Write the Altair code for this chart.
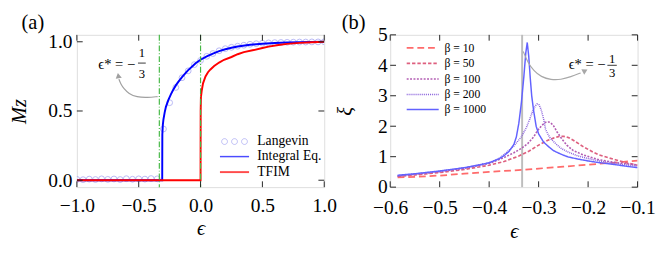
import altair as alt
import pandas as pd

SERIF = "'Liberation Serif', 'DejaVu Serif', serif"
W, H = 255, 157

# ---------------- panel (a) data ----------------
lang_eps = [-1.0, -0.95, -0.9, -0.85, -0.8, -0.75, -0.7, -0.65, -0.6, -0.55, -0.5,
            -0.45, -0.4, -0.35, -0.3, -0.25, -0.2, -0.15, -0.1, -0.05, 0.0,
            0.05, 0.1, 0.15, 0.2, 0.25, 0.3, 0.35, 0.4, 0.45, 0.5,
            0.55, 0.6, 0.65, 0.7, 0.75, 0.8, 0.85, 0.9, 0.95, 1.0]
lang_mz = [0.006, 0.004, 0.008, 0.005, 0.01, 0.006, 0.009, 0.005, 0.011, 0.007, 0.01,
           0.008, 0.012, 0.01, 0.37, 0.56, 0.67, 0.74, 0.79, 0.835, 0.865,
           0.895, 0.915, 0.935, 0.95, 0.96, 0.968, 0.975, 0.982, 0.986, 0.99,
           0.992, 0.994, 0.995, 0.996, 0.997, 0.998, 0.998, 0.999, 0.999, 1.0]

inteq_eps = [-1.0, -0.31, -0.3095, -0.309, -0.305, -0.3, -0.29, -0.28, -0.26, -0.24, -0.22,
             -0.2, -0.18, -0.15, -0.12, -0.1, -0.07, -0.04, 0.0, 0.05, 0.1, 0.15, 0.2,
             0.25, 0.3, 0.4, 0.5, 0.6, 0.7, 0.8, 0.9, 1.0]
inteq_mz = [0.0, 0.0, 0.2, 0.33, 0.40, 0.44, 0.49, 0.53, 0.58, 0.62, 0.655,
            0.685, 0.71, 0.745, 0.775, 0.795, 0.82, 0.845, 0.87, 0.895, 0.915, 0.932, 0.946,
            0.957, 0.966, 0.978, 0.986, 0.991, 0.995, 0.997, 0.999, 1.0]

tfim_eps = [-1.0, 0.0, 0.0005, 0.001, 0.003, 0.01, 0.02, 0.04, 0.06, 0.08, 0.11, 0.15,
            0.19, 0.25, 0.3, 0.35, 0.43, 0.5, 0.55, 0.63, 0.7, 0.8, 0.9, 1.0]
tfim_mz = [0.0, 0.0, 0.3, 0.5, 0.6, 0.65, 0.70, 0.75, 0.78, 0.80, 0.825, 0.85,
           0.87, 0.89, 0.91, 0.925, 0.94, 0.955, 0.965, 0.977, 0.985, 0.992, 0.997, 1.0]

crit_a = [-1 / 3, 0.0]
arrow_a_eps = [-0.347, -0.43, -0.516, -0.58, -0.621, -0.645, -0.66]
arrow_a_mz = [0.604, 0.597, 0.600, 0.625, 0.662, 0.695, 0.73]
head_a = {"eps": [-0.665], "val": [0.755]}

series_a = ["Langevin", "Integral Eq.", "TFIM"]
xticks_a = [-1.0, -0.5, 0.0, 0.5, 1.0]
yticks_a = [0.0, 0.5, 1.0]

# ---------------- panel (b) data ----------------
b10_eps = [-0.585, -0.55, -0.5, -0.45, -0.4, -0.35, -0.33, -0.3, -0.25, -0.2, -0.15, -0.1]
b10_xi = [0.32, 0.34, 0.38, 0.44, 0.50, 0.55, 0.57, 0.61, 0.67, 0.74, 0.80, 0.87]

b50_eps = [-0.585, -0.55, -0.5, -0.45, -0.4, -0.37, -0.34, -0.32, -0.3, -0.28, -0.27,
           -0.26, -0.25, -0.24, -0.23, -0.21, -0.19, -0.178, -0.16, -0.145, -0.12, -0.1]
b50_xi = [0.35, 0.40, 0.48, 0.58, 0.72, 0.84, 1.02, 1.18, 1.38, 1.55, 1.61,
          1.66, 1.67, 1.63, 1.54, 1.33, 1.15, 1.06, 0.97, 0.90, 0.79, 0.72]

b100_eps = [-0.585, -0.55, -0.5, -0.45, -0.4, -0.37, -0.35, -0.335, -0.322, -0.31, -0.302,
            -0.294, -0.286, -0.28, -0.276, -0.27, -0.263, -0.253, -0.243, -0.23, -0.21,
            -0.19, -0.178, -0.15, -0.12, -0.1]
b100_xi = [0.36, 0.42, 0.51, 0.62, 0.78, 0.97, 1.13, 1.27, 1.43, 1.65, 1.86,
           2.02, 2.13, 2.14, 2.12, 2.02, 1.82, 1.58, 1.38, 1.2, 1.06,
           0.96, 0.9, 0.82, 0.76, 0.73]

b200_eps = [-0.585, -0.55, -0.5, -0.45, -0.4, -0.38, -0.367, -0.35, -0.335, -0.325, -0.318,
            -0.312, -0.307, -0.303, -0.299, -0.295, -0.29, -0.286, -0.28, -0.276, -0.265,
            -0.255, -0.243, -0.22, -0.2, -0.178, -0.15, -0.12, -0.1]
b200_xi = [0.37, 0.43, 0.52, 0.63, 0.80, 0.94, 1.11, 1.35, 1.65, 1.95, 2.23,
           2.5, 2.66, 2.73, 2.7, 2.55, 2.25, 1.9, 1.7, 1.6, 1.42,
           1.28, 1.17, 1.02, 0.94, 0.86, 0.79, 0.72, 0.69]

b1000_eps = [-0.585, -0.55, -0.5, -0.45, -0.42, -0.4, -0.38, -0.37, -0.36, -0.35, -0.345,
             -0.34, -0.335, -0.33, -0.326, -0.323, -0.32, -0.317, -0.314, -0.31, -0.305,
             -0.3, -0.29, -0.28, -0.27, -0.26, -0.25, -0.24, -0.22, -0.2, -0.18, -0.15,
             -0.12, -0.1]
b1000_xi = [0.39, 0.44, 0.53, 0.64, 0.73, 0.80, 0.93, 1.03, 1.17, 1.40, 1.65,
            2.10, 2.75, 3.60, 4.40, 4.75, 4.30, 3.60, 3.00, 2.50, 2.00,
            1.75, 1.48, 1.33, 1.20, 1.12, 1.05, 0.99, 0.92, 0.86, 0.81, 0.75,
            0.68, 0.64]

beta_labels = ["β = 10", "β = 50", "β = 100", "β = 200", "β = 1000"]
beta_colors = ["#ff6b6b", "#de607f", "#b25cb2", "#8a62dc", "#6262ff"]
beta_dash = [[7, 4], [3.5, 2], [2, 1.5], [1, 1], [1, 0]]
beta_width = [1.8, 1.5, 1.3, 1.5, 2.0]

crit_b = [-1 / 3]
arrow_b_eps = [-0.331, -0.322, -0.31, -0.295, -0.275, -0.255, -0.235, -0.215]
arrow_b_xi = [4.45, 4.10, 3.82, 3.62, 3.52, 3.53, 3.62, 3.75]
head_b = {"eps": [-0.206], "val": [3.82]}

xticks_b = [-0.6, -0.5, -0.4, -0.3, -0.2, -0.1]
yticks_b = [0, 1, 2, 3, 4, 5]

panel_labels = ["(a)", "(b)"]

# ---------------- helpers ----------------
sx_a = alt.Scale(domain=[-1, 1], nice=False, zero=False)
sy_a = alt.Scale(domain=[-0.05, 1.05], nice=False, zero=False)
sx_b = alt.Scale(domain=[-0.6, -0.1], nice=False, zero=False)
sy_b = alt.Scale(domain=[0, 5], nice=False, zero=False)

def mk_axis(values, fmt, title, tpad, lpad):
    return alt.Axis(values=values, format=fmt, title=title, ticks=False, tickSize=0, domain=False,
                    grid=False, labelFont=SERIF, labelFontSize=20, labelColor="black",
                    labelPadding=lpad, labelFlush=False, labelOverlap=False, labelBound=False,
                    titleFont=SERIF, titleFontSize=21, titleFontWeight="normal",
                    titleColor="black", titlePadding=tpad, titleFontStyle="italic")

ax_xa = mk_axis(xticks_a, ".1f", "ϵ", 3, 9)
ax_ya = mk_axis(yticks_a, ".1f", "Mz", 19, 5)
ax_xb = mk_axis(xticks_b, ".1f", "ϵ", 4, 11)
ax_yb = mk_axis(yticks_b, "d", "ξ", 23, 3)

def XA(f="eps"):
    return alt.X(f"{f}:Q", scale=sx_a, axis=ax_xa)
def YA(f="val"):
    return alt.Y(f"{f}:Q", scale=sy_a, axis=ax_ya)
def XB(f="eps"):
    return alt.X(f"{f}:Q", scale=sx_b, axis=ax_xb)
def YB(f="val"):
    return alt.Y(f"{f}:Q", scale=sy_b, axis=ax_yb)

TICK = 6
TCOL = "#222222"

def panel_label(txt, dx):
    return alt.Chart(pd.DataFrame({"t": [txt]})).mark_text(
        align="left", baseline="top", font=SERIF, fontSize=21, color="black"
    ).encode(text="t:N", x=alt.value(dx), y=alt.value(-23))

# ---------------- panel (a) ----------------
lang_df = pd.DataFrame({"eps": lang_eps, "val": lang_mz})
inteq_df = pd.DataFrame({"eps": inteq_eps, "val": inteq_mz})
tfim_df = pd.DataFrame({"eps": tfim_eps, "val": tfim_mz})

pts = alt.Chart(lang_df).mark_point(shape="circle", size=36, filled=False, color="#9c9cf2",
                                    strokeWidth=1, clip=True).encode(x=XA(), y=YA())
blue = alt.Chart(inteq_df).mark_line(color="#0000ff", strokeWidth=2, clip=True).encode(x=XA(), y=YA())
red = alt.Chart(tfim_df).mark_line(color="#ff0000", strokeWidth=2, clip=True).encode(x=XA(), y=YA())
green = alt.Chart(pd.DataFrame({"eps": crit_a})).mark_rule(
    color="#45b845", strokeWidth=1.2, strokeDash=[6, 2, 1, 2]).encode(x=XA())

arr_a = alt.Chart(pd.DataFrame({"eps": arrow_a_eps, "val": arrow_a_mz, "o": list(range(len(arrow_a_eps)))})
                  ).mark_line(color="#a0a0a0", strokeWidth=1.2, interpolate="basis").encode(
    x=XA(), y=YA(), order="o:Q")
arrh_a = alt.Chart(pd.DataFrame(head_a)).mark_point(
    shape="triangle-up", size=40, filled=True, color="#a0a0a0", opacity=1, angle=350).encode(x=XA(), y=YA())

ann_a_main = alt.Chart(pd.DataFrame({"eps": [-0.529], "val": [0.839], "t": ["ϵ* = −"]})).mark_text(
    align="right", baseline="middle", font=SERIF, fontSize=15, color="black").encode(x=XA(), y=YA(), text="t:N")
ann_a_frac = alt.Chart(pd.DataFrame({"eps": [-0.4745, -0.4745], "val": [0.916, 0.769], "t": ["1", "3"]})).mark_text(
    align="center", baseline="middle", font=SERIF, fontSize=13, color="black").encode(x=XA(), y=YA(), text="t:N")
ann_a_bar = alt.Chart(pd.DataFrame({"eps": [-0.506], "eps2": [-0.443], "val": [0.846]})).mark_rule(
    color="black", strokeWidth=0.8).encode(x=XA(), x2="eps2:Q", y=YA())

tk_xa = pd.DataFrame({"eps": xticks_a})
tk_ya = pd.DataFrame({"val": yticks_a})
ticks_a = [
    alt.Chart(tk_xa).mark_rule(color=TCOL, strokeWidth=1).encode(x=XA(), y=alt.value(0), y2=alt.value(TICK)),
    alt.Chart(tk_xa).mark_rule(color=TCOL, strokeWidth=1).encode(x=XA(), y=alt.value(H), y2=alt.value(H - TICK)),
    alt.Chart(tk_ya).mark_rule(color=TCOL, strokeWidth=1).encode(y=YA(), x=alt.value(0), x2=alt.value(TICK)),
    alt.Chart(tk_ya).mark_rule(color=TCOL, strokeWidth=1).encode(y=YA(), x=alt.value(W), x2=alt.value(W - TICK)),
]

# legend symbols: wide custom paths on a small symbol size (keeps rows compact)
three_circles = ("M-1.77,0 A0.4,0.4 0 1,0 -0.97,0 A0.4,0.4 0 1,0 -1.77,0 Z "
                 "M-0.4,0 A0.4,0.4 0 1,0 0.4,0 A0.4,0.4 0 1,0 -0.4,0 Z "
                 "M0.97,0 A0.4,0.4 0 1,0 1.77,0 A0.4,0.4 0 1,0 0.97,0 Z")
wide_stroke = "M-2,0 H2"
leg_a_obj = alt.Legend(title=None, orient="none", legendX=154, legendY=102, padding=0,
                       symbolSize=225, labelFont=SERIF, labelFontSize=14, labelColor="black",
                       labelOffset=15, rowPadding=0, symbolFillColor="transparent")
leg_a_df = pd.DataFrame({"eps": [5.0, 5.0, 5.0], "val": [0.5, 0.5, 0.5], "series": series_a})
leg_a = alt.Chart(leg_a_df).mark_point(filled=False, clip=True, size=225).encode(
    x=XA(), y=YA(),
    color=alt.Color("series:N", scale=alt.Scale(domain=series_a, range=["#9c9cf2", "#0000ff", "#ff0000"]),
                    legend=leg_a_obj),
    shape=alt.Shape("series:N", scale=alt.Scale(domain=series_a, range=[three_circles, wide_stroke, wide_stroke]),
                    legend=leg_a_obj),
    strokeWidth=alt.StrokeWidth("series:N", scale=alt.Scale(domain=series_a, range=[1, 2, 2]),
                                legend=leg_a_obj),
)

panel_a = alt.layer(
    pts, blue, red, green, arr_a, arrh_a, ann_a_main, ann_a_frac, ann_a_bar, *ticks_a, leg_a,
    panel_label(panel_labels[0], -57)
).properties(width=W, height=H)

# ---------------- panel (b) ----------------
rows = []
for lab, ee, xx in zip(beta_labels, [b10_eps, b50_eps, b100_eps, b200_eps, b1000_eps],
                       [b10_xi, b50_xi, b100_xi, b200_xi, b1000_xi]):
    for i, (e, x) in enumerate(zip(ee, xx)):
        rows.append({"eps": e, "val": x, "beta": lab, "o": i})
beta_df = pd.DataFrame(rows)

leg_b_obj = alt.Legend(title=None, orient="none", legendX=24, legendY=4, padding=0,
                       symbolSize=272, symbolType=wide_stroke, labelFont=SERIF, labelFontSize=12,
                       labelColor="black", labelOffset=13, rowPadding=0)
gray = alt.Chart(pd.DataFrame({"eps": crit_b})).mark_rule(color="#bdbdbd", strokeWidth=2).encode(x=XB())
curves = alt.Chart(beta_df).mark_line(clip=True).encode(
    x=XB(), y=YB(), order="o:Q",
    color=alt.Color("beta:N", scale=alt.Scale(domain=beta_labels, range=beta_colors), legend=leg_b_obj),
    strokeDash=alt.StrokeDash("beta:N", scale=alt.Scale(domain=beta_labels, range=beta_dash), legend=leg_b_obj),
    strokeWidth=alt.StrokeWidth("beta:N", scale=alt.Scale(domain=beta_labels, range=beta_width), legend=leg_b_obj),
)
arr_b = alt.Chart(pd.DataFrame({"eps": arrow_b_eps, "val": arrow_b_xi, "o": list(range(len(arrow_b_eps)))})
                  ).mark_line(color="#a8a8a8", strokeWidth=1.2, interpolate="basis").encode(
    x=XB(), y=YB(), order="o:Q")
arrh_b = alt.Chart(pd.DataFrame(head_b)).mark_point(
    shape="triangle-up", size=40, filled=True, color="#a8a8a8", opacity=1, angle=62).encode(x=XB(), y=YB())
ann_b_main = alt.Chart(pd.DataFrame({"eps": [-0.1647], "val": [4.035], "t": ["ϵ* = −"]})).mark_text(
    align="right", baseline="middle", font=SERIF, fontSize=15, color="black").encode(x=XB(), y=YB(), text="t:N")
ann_b_frac = alt.Chart(pd.DataFrame({"eps": [-0.1516, -0.1516], "val": [4.21, 3.75], "t": ["1", "3"]})).mark_text(
    align="center", baseline="middle", font=SERIF, fontSize=13, color="black").encode(x=XB(), y=YB(), text="t:N")
ann_b_bar = alt.Chart(pd.DataFrame({"eps": [-0.161], "eps2": [-0.142], "val": [4.0]})).mark_rule(
    color="black", strokeWidth=0.8).encode(x=XB(), x2="eps2:Q", y=YB())

tk_xb = pd.DataFrame({"eps": xticks_b})
tk_yb = pd.DataFrame({"val": yticks_b})
ticks_b = [
    alt.Chart(tk_xb).mark_rule(color=TCOL, strokeWidth=1).encode(x=XB(), y=alt.value(0), y2=alt.value(TICK)),
    alt.Chart(tk_xb).mark_rule(color=TCOL, strokeWidth=1).encode(x=XB(), y=alt.value(H), y2=alt.value(H - TICK)),
    alt.Chart(tk_yb).mark_rule(color=TCOL, strokeWidth=1).encode(y=YB(), x=alt.value(0), x2=alt.value(TICK)),
    alt.Chart(tk_yb).mark_rule(color=TCOL, strokeWidth=1).encode(y=YB(), x=alt.value(W), x2=alt.value(W - TICK)),
]

panel_b = alt.layer(
    gray, curves, arr_b, arrh_b, ann_b_main, ann_b_frac, ann_b_bar, *ticks_b,
    panel_label(panel_labels[1], -50)
).properties(width=W, height=H)

chart = alt.hconcat(panel_a, panel_b, spacing=68, bounds="flush").resolve_scale(
    color="independent", shape="independent", strokeWidth="independent", strokeDash="independent"
).resolve_legend(
    color="independent", shape="independent", strokeWidth="independent", strokeDash="independent"
).properties(
    padding=0
).configure_view(
    stroke="#222222", strokeWidth=1.2
).configure(background="white")

chart.save("out.html", embed_options={"renderer": "svg", "actions": False})
